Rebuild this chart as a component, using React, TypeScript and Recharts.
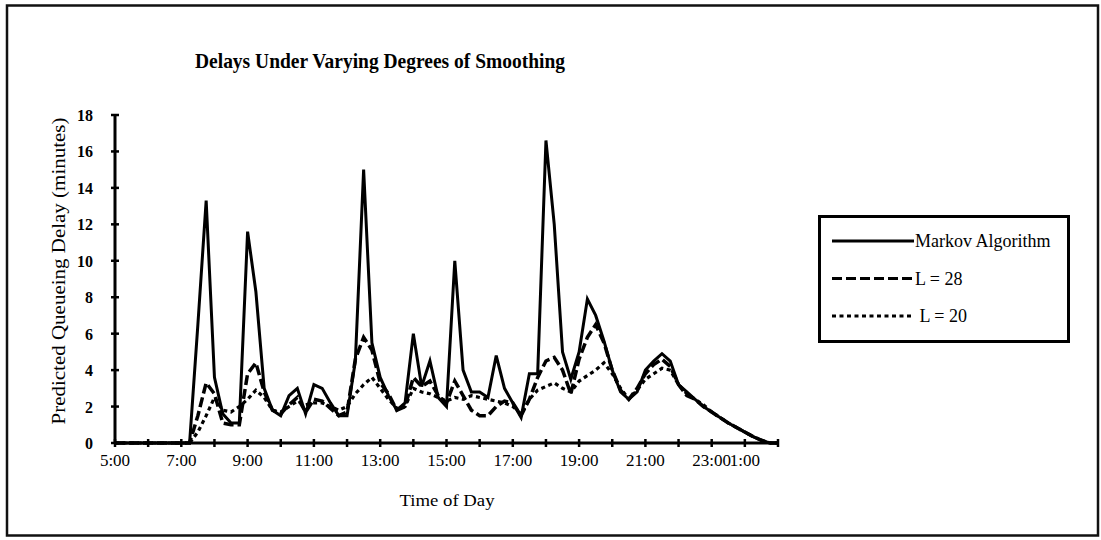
import React from "react";
import { LineChart, Line, XAxis, YAxis, Legend } from "recharts";

const TIMES = [
  "5:00","5:15","5:30","5:45","6:00","6:15","6:30","6:45",
  "7:00","7:15","7:30","7:45","8:00","8:15","8:30","8:45",
  "9:00","9:15","9:30","9:45","10:00","10:15","10:30","10:45",
  "11:00","11:15","11:30","11:45","12:00","12:15","12:30","12:45",
  "13:00","13:15","13:30","13:45","14:00","14:15","14:30","14:45",
  "15:00","15:15","15:30","15:45","16:00","16:15","16:30","16:45",
  "17:00","17:15","17:30","17:45","18:00","18:15","18:30","18:45",
  "19:00","19:15","19:30","19:45","20:00","20:15","20:30","20:45",
  "21:00","21:15","21:30","21:45","22:00","22:15","22:30","22:45",
  "23:00","23:15","23:30","23:45","0:00","0:15","0:30","0:45","1:00",
];

const MARKOV = [
  0,0,0,0,0,0,0,0,
  0,0,6.5,13.3,3.6,1.6,1.1,1.1,
  11.6,8.3,3.0,1.8,1.5,2.6,3.0,1.6,
  3.2,3.0,2.2,1.5,1.5,4.5,15.0,5.5,
  3.6,2.6,1.8,2.2,6.0,3.1,4.5,2.5,
  2.0,10.0,4.0,2.8,2.8,2.5,4.8,3.0,
  2.2,1.4,3.8,3.8,16.6,12.0,5.0,3.5,
  5.0,7.9,7.0,5.6,4.0,2.8,2.4,2.8,
  4.0,4.5,4.9,4.5,3.2,2.8,2.4,2.0,
  1.7,1.4,1.1,0.85,0.6,0.35,0.15,0,0,
];

const L28 = [
  0,0,0,0,0,0,0,0,
  0,0,1.5,3.3,2.7,1.1,1.0,1.0,
  3.8,4.4,2.8,1.8,1.6,2.1,2.5,1.7,
  2.4,2.3,1.9,1.5,1.7,4.6,5.8,5.1,
  3.3,2.7,1.8,2.0,3.6,3.1,3.4,2.6,
  2.2,3.4,2.6,1.8,1.5,1.5,2.0,2.3,
  2.2,1.5,2.4,3.6,4.5,4.7,4.0,2.7,
  4.6,5.8,6.5,5.5,4.0,2.9,2.4,3.0,
  3.8,4.3,4.6,4.2,3.2,2.6,2.4,2.0,
  1.7,1.4,1.1,0.85,0.6,0.35,0.15,0,0,
];

const L20 = [
  0,0,0,0,0,0,0,0,
  0,0,0.6,1.5,2.5,1.8,1.7,2.0,
  2.4,2.9,2.5,1.8,1.7,2.0,2.3,2.1,
  2.2,2.2,2.0,1.8,2.0,2.7,3.2,3.6,
  3.0,2.4,1.9,2.0,3.0,2.8,2.7,2.5,
  2.3,2.5,2.4,2.6,2.5,2.4,2.3,2.2,
  2.0,1.6,2.4,2.9,3.1,3.3,3.0,2.8,
  3.4,3.7,4.0,4.4,3.8,3.0,2.4,2.9,
  3.5,3.8,4.1,4.0,3.2,2.7,2.4,2.1,
  1.7,1.4,1.1,0.85,0.6,0.35,0.15,0,0,
];

const X_TICKS = [0,1,2,3,4,5,6,7,8,9,10,11,12,13,14,15,16,17,18,19,20];
const X_TICK_LABELS = [
  "5:00","","7:00","","9:00","","11:00","","13:00","","15:00","",
  "17:00","","19:00","","21:00","","23:00","1:00","",
];
const Y_TICKS = [0,2,4,6,8,10,12,14,16,18];

const SERIES = [
  { key: "markov", name: "Markov Algorithm", values: MARKOV, dash: undefined as string | undefined, width: 3 },
  { key: "l28", name: "L = 28", values: L28, dash: "10 4", width: 3.5 },
  { key: "l20", name: "L = 20", values: L20, dash: "4 3.5", width: 3.2 },
];

const FONT = "'Liberation Serif', 'Times New Roman', serif";

const toHours = (t: string) => {
  const [hh, mm] = t.split(":").map(Number);
  return ((hh - 5 + 24) % 24) + mm / 60;
};

const data = TIMES.map((t, i) => {
  const row: Record<string, number | string> = { time: t, h: toHours(t) };
  SERIES.forEach((s) => (row[s.key] = s.values[i]));
  return row;
});

const XTick = (props: any) => {
  const { x, y, payload } = props;
  const label = X_TICK_LABELS[Math.round(payload.value)];
  return (
    <g>
      <line x1={x} x2={x} y1={y - 4} y2={y + 4} stroke="#000" strokeWidth={2.5} />
      <text x={x} y={y + 23} textAnchor="middle" fontFamily={FONT} fontSize={17} fill="#000">
        {label}
      </text>
    </g>
  );
};

const YTick = (props: any) => {
  const { x, y, payload } = props;
  return (
    <g>
      <line x1={x - 4} x2={x + 4} y1={y} y2={y} stroke="#000" strokeWidth={2.5} />
      <text x={x - 22} y={y + 6} textAnchor="end" fontFamily={FONT} fontSize={16} fontWeight="bold" fill="#000">
        {payload.value}
      </text>
    </g>
  );
};

const LegendBox = (props: any) => {
  const payload = [...(props.payload || [])].sort(
    (a: any, b: any) =>
      SERIES.findIndex((s) => s.name === a.value) - SERIES.findIndex((s) => s.name === b.value)
  );
  return (
    <svg width={252} height={128} style={{ display: "block" }}>
      <rect x={1.5} y={1.5} width={249} height={125} fill="#fff" stroke="#000" strokeWidth={3} />
      {payload.map((p: any, i: number) => {
        const s = SERIES.find((q) => q.name === p.value);
        const cy = 26 + i * 37.5;
        return (
          <g key={p.value}>
            <line x1={14} x2={96} y1={cy} y2={cy} stroke="#000" strokeWidth={3} strokeDasharray={s?.dash} />
            <text x={97} y={cy + 6} fontFamily={FONT} fontSize={18} fill="#000">
              {(i === 2 ? "\u00a0" : "") + p.value}
            </text>
          </g>
        );
      })}
    </svg>
  );
};

export default function App() {
  return (
    <div style={{ position: "absolute", left: 0, top: 0, width: 1101, height: 540, background: "#fff" }}>
      <LineChart
        width={1101}
        height={540}
        data={data}
        margin={{ top: 115, right: 323, bottom: 67, left: 55 }}
      >
        <XAxis
          type="number"
          dataKey="h"
          domain={[0, 20]}
          ticks={X_TICKS}
          interval={0}
          height={30}
          tickSize={0}
          tickMargin={0}
          tickLine={false}
          axisLine={{ stroke: "#000", strokeWidth: 3 }}
          tick={<XTick />}
        />
        <YAxis
          type="number"
          domain={[0, 18]}
          ticks={Y_TICKS}
          interval={0}
          width={60}
          tickSize={0}
          tickMargin={0}
          tickLine={false}
          axisLine={{ stroke: "#000", strokeWidth: 3 }}
          tick={<YTick />}
        />
        <Legend
          layout="horizontal"
          verticalAlign="middle"
          align="center"
          content={<LegendBox />}
          wrapperStyle={{ position: "absolute", left: 818, top: 215, width: 252, height: 128 }}
        />
        {SERIES.map((s) => (
          <Line
            key={s.key}
            type="linear"
            dataKey={s.key}
            name={s.name}
            stroke="#000"
            strokeWidth={s.width}
            strokeDasharray={s.dash}
            dot={false}
            activeDot={false}
            isAnimationActive={false}
          />
        ))}
      </LineChart>
      <svg
        width={1101}
        height={540}
        style={{ position: "absolute", left: 0, top: 0, pointerEvents: "none" }}
      >
        <rect x={7} y={5.5} width={1091} height={530} fill="none" stroke="#111" strokeWidth={2.5} />
        <text
          x={380}
          y={68}
          textAnchor="middle"
          fontFamily={FONT}
          fontWeight="bold"
          fontSize={21}
          textLength={370}
          lengthAdjust="spacingAndGlyphs"
          fill="#000"
        >
          Delays Under Varying Degrees of Smoothing
        </text>
        <text
          x={447}
          y={506}
          textAnchor="middle"
          fontFamily={FONT}
          fontSize={17}
          textLength={95}
          lengthAdjust="spacingAndGlyphs"
          fill="#000"
        >
          Time of Day
        </text>
        <text
          transform="translate(65,271) rotate(-90)"
          textAnchor="middle"
          fontFamily={FONT}
          fontSize={18}
          textLength={307}
          lengthAdjust="spacingAndGlyphs"
          fill="#000"
        >
          Predicted Queueing Delay (minutes)
        </text>
      </svg>
    </div>
  );
}
